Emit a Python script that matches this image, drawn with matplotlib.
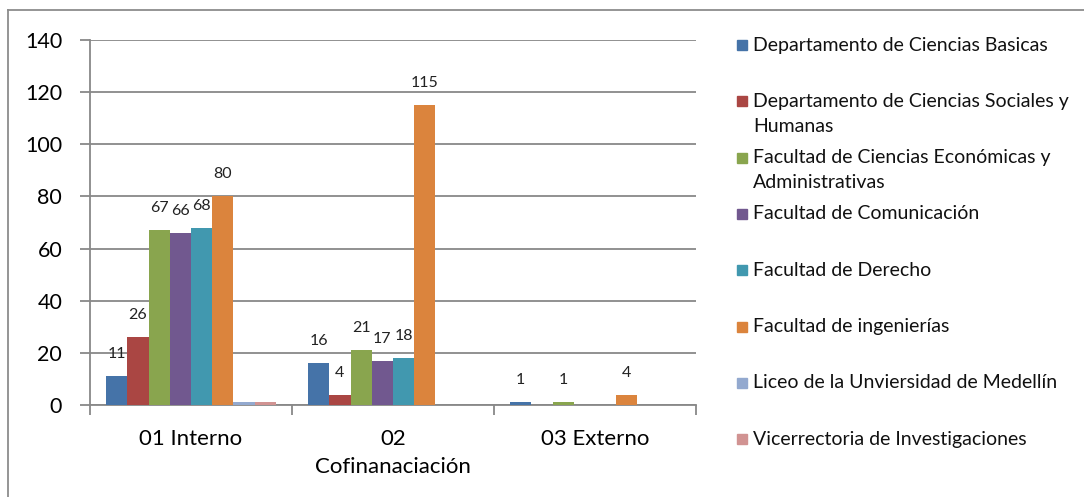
import numpy as np
import matplotlib.pyplot as plt
from matplotlib.lines import Line2D
from matplotlib.patches import Rectangle

plt.rcParams['font.family'] = ['Lato', 'DejaVu Sans']

# categorias y series
categorias = ["01 Interno", "02\nCofinanaciación", "03 Externo"]
series = [
    "Departamento de Ciencias Basicas",
    "Departamento de Ciencias Sociales y\nHumanas",
    "Facultad de Ciencias Económicas y\nAdministrativas",
    "Facultad de Comunicación",
    "Facultad de Derecho",
    "Facultad de ingenierías",
    "Liceo de la Unviersidad de Medellín",
    "Vicerrectoria de Investigaciones",
]
basicas = [11, 16, 1]
sociales = [26, 4, 0]
economicas = [67, 21, 1]
comunicacion = [66, 17, 0]
derecho = [68, 18, 0]
ingenierias = [80, 115, 4]
liceo = [1, 0, 0]
vicerrectoria = [1, 0, 0]
valores = [basicas, sociales, economicas, comunicacion, derecho, ingenierias, liceo, vicerrectoria]
# las dos ultimas series no tienen etiquetas
con_etiqueta = [True, True, True, True, True, True, False, False]

colores = ["#4573A8", "#AA4643", "#89A54E", "#71588F", "#4198AF", "#DB843D", "#93A9CF", "#D19392"]

W, H = 1084, 497
fig = plt.figure(figsize=(W / 100, H / 100), dpi=100)
ax = fig.add_axes([90 / W, 1 - 405 / H, (696 - 90) / W, (405 - 40) / H])

x = np.arange(len(categorias))
n = len(series)
ancho = 0.84 / n
for i in range(n):
    pos = x - 0.42 + ancho * (i + 0.5)
    ax.bar(pos, valores[i], ancho, color=colores[i], linewidth=0, zorder=3)
    if con_etiqueta[i]:
        for p, v in zip(pos, valores[i]):
            if v > 0:
                ax.annotate(str(v), (p, v), xytext=(0, 22), textcoords="offset pixels",
                            ha="center", va="center", fontsize=11.5, color="#222222")

ax.set_xlim(-0.5, 2.5)
ax.set_ylim(0, 140)
ax.set_yticks(range(0, 141, 20))
ax.yaxis.grid(True, color="#888888", linewidth=1.3, zorder=0)
ax.set_axisbelow(True)
for s in ["top", "right"]:
    ax.spines[s].set_visible(False)
for s in ["left", "bottom"]:
    ax.spines[s].set_color("#888888")
    ax.spines[s].set_linewidth(1.3)

ax.set_xticks([-0.5, 0.5, 1.5, 2.5])
ax.set_xticklabels([])
ax.set_xticks(x, minor=True)
ax.set_xticklabels(categorias, minor=True, fontsize=16, va="top")
for t in ax.get_xticklabels(minor=True):
    t.set_linespacing(1.55)
ax.tick_params(axis="x", which="major", length=7, color="#888888", width=1.3, direction="out")
ax.tick_params(axis="x", which="minor", length=0, pad=17)
ax.tick_params(axis="y", length=7, color="#888888", width=1.3, labelsize=15.5, pad=13)

# leyenda a la derecha
for i in range(n):
    yc = 45 + i * 56.3
    fig.patches.append(Rectangle((737 / W, 1 - (yc + 5) / H), 10 / W, 10 / H,
                                 transform=fig.transFigure, color=colores[i]))
    for j, linea in enumerate(series[i].split("\n")):
        fig.text(753 / W, 1 - (yc + j * 25) / H, linea, fontsize=14, va="center", ha="left",
                 color="#111111")

# borde
fig.add_artist(Line2D([8 / W, 8 / W], [0, 1 - 10 / H], color="#8c8c8c", linewidth=1.3))
fig.add_artist(Line2D([8 / W, 1], [1 - 10 / H, 1 - 10 / H], color="#8c8c8c", linewidth=1.3))

fig.savefig("out.png", dpi=100)
